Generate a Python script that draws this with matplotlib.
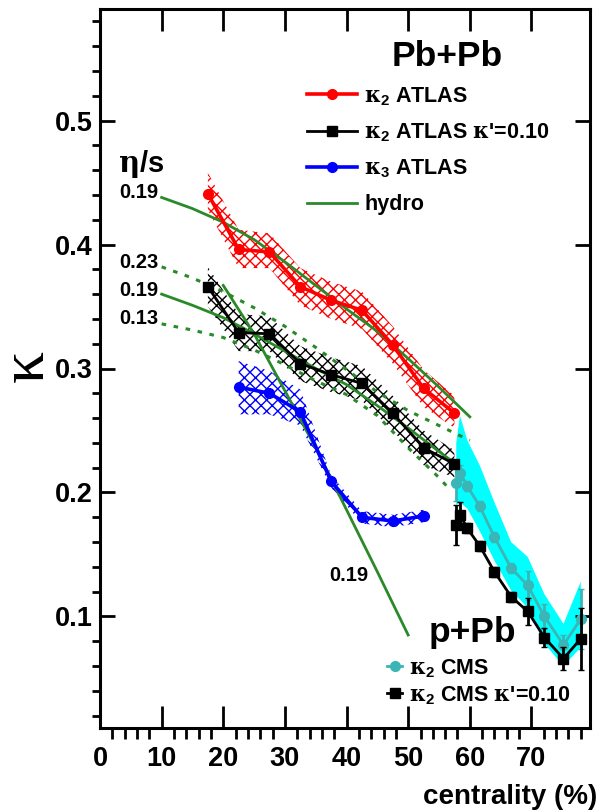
import numpy as np
import matplotlib.pyplot as plt
from matplotlib.lines import Line2D

plt.rcParams['font.family'] = ['Liberation Sans', 'DejaVu Sans']
plt.rcParams['font.weight'] = 'bold'
plt.rcParams['mathtext.fontset'] = 'custom'
plt.rcParams['mathtext.rm'] = 'Liberation Sans:bold'
plt.rcParams['mathtext.it'] = 'DejaVu Serif'
plt.rcParams['mathtext.bf'] = 'Liberation Sans:bold'
plt.rcParams['hatch.linewidth'] = 1.0

# ATLAS Pb+Pb
atlas_x = [17.5, 22.5, 27.5, 32.5, 37.5, 42.5, 47.5, 52.5, 57.5]
k2_atlas = [0.441, 0.396, 0.394, 0.366, 0.355, 0.347, 0.319, 0.284, 0.264]
k2_atlas_hi = [0.458, 0.412, 0.409, 0.381, 0.370, 0.362, 0.334, 0.299, 0.278]
k2_atlas_lo = [0.428, 0.381, 0.381, 0.351, 0.340, 0.332, 0.304, 0.269, 0.252]

k2_atlas_kp = [0.366, 0.329, 0.328, 0.304, 0.295, 0.288, 0.264, 0.236, 0.223]
k2_atlas_kp_hi = [0.382, 0.344, 0.342, 0.318, 0.309, 0.302, 0.278, 0.250, 0.234]
k2_atlas_kp_lo = [0.350, 0.314, 0.314, 0.290, 0.281, 0.274, 0.250, 0.222, 0.212]

k3_x = [22.5, 27.5, 32.5, 37.5, 42.5, 47.5, 52.5]
k3_atlas = [0.285, 0.280, 0.265, 0.209, 0.180, 0.177, 0.181]
k3_atlas_hi = [0.306, 0.298, 0.283, 0.214, 0.185, 0.182, 0.186]
k3_atlas_lo = [0.263, 0.263, 0.254, 0.204, 0.175, 0.172, 0.176]

# hydro curves (eta/s)
hydro_a_x = [10, 15, 20, 25, 30, 35, 40, 45, 50, 55, 60]
hydro_a_y = [0.438, 0.429, 0.418, 0.404, 0.386, 0.367, 0.348, 0.330, 0.308, 0.285, 0.261]
hydro_b_x = [10, 15, 20, 25, 30, 35, 40, 45, 50, 55, 58]
hydro_b_y = [0.360, 0.351, 0.341, 0.328, 0.314, 0.300, 0.287, 0.270, 0.252, 0.233, 0.222]
hydro_hi_x = [10, 15, 20, 25, 30, 35, 40, 45, 50, 55, 60]
hydro_hi_y = [0.382, 0.373, 0.362, 0.349, 0.334, 0.317, 0.299, 0.281, 0.266, 0.254, 0.242]
hydro_lo_x = [10, 15, 20, 25, 30, 35, 40, 45, 50, 55, 57]
hydro_lo_y = [0.336, 0.331, 0.325, 0.315, 0.303, 0.290, 0.279, 0.262, 0.236, 0.212, 0.201]
hydro_k3_x = [20, 25, 30, 35, 40, 45, 50]
hydro_k3_y = [0.367, 0.328, 0.282, 0.236, 0.186, 0.136, 0.085]

# CMS p+Pb
cms_x = [57.8, 58.4, 59.6, 61.6, 64.0, 66.7, 69.4, 72.1, 75.2, 78.0]
k2_cms = [0.208, 0.216, 0.205, 0.189, 0.164, 0.139, 0.125, 0.100, 0.077, 0.098]
k2_cms_err = [0.015, 0.006, 0.004, 0.004, 0.004, 0.004, 0.012, 0.010, 0.008, 0.024]
k2_cms_hi = [0.240, 0.262, 0.242, 0.222, 0.192, 0.160, 0.148, 0.118, 0.094, 0.128]
k2_cms_lo = [0.190, 0.192, 0.187, 0.169, 0.145, 0.121, 0.107, 0.078, 0.060, 0.075]
k2_cms_kp = [0.174, 0.182, 0.171, 0.157, 0.136, 0.116, 0.104, 0.083, 0.066, 0.082]
k2_cms_kp_err = [0.016, 0.010, 0.004, 0.004, 0.004, 0.004, 0.011, 0.008, 0.009, 0.025]

green = '#2a8a2a'
teal = '#3bb5b5'

fig = plt.figure(figsize=(6.03, 8.10), dpi=100)
ax = fig.add_axes([100/603, 82/810, 490/603, 719/810])

# bands
ax.fill_between(atlas_x, k2_atlas_lo, k2_atlas_hi, facecolor='none', edgecolor='red', hatch='xxx', linewidth=0, zorder=1)
ax.fill_between(atlas_x, k2_atlas_kp_lo, k2_atlas_kp_hi, facecolor='none', edgecolor='black', hatch='xxx', linewidth=0, zorder=1)
ax.fill_between(k3_x, k3_atlas_lo, k3_atlas_hi, facecolor='none', edgecolor='blue', hatch='xxx', linewidth=0, zorder=1)
ax.fill_between(cms_x, k2_cms_lo, k2_cms_hi, facecolor='#00ffff', edgecolor='none', zorder=1)

# hydro
ax.plot(hydro_a_x, hydro_a_y, '-', color=green, lw=2, zorder=2)
ax.plot(hydro_b_x, hydro_b_y, '-', color=green, lw=2, zorder=2)
ax.plot(hydro_hi_x, hydro_hi_y, color=green, lw=2.2, ls=(0, (1.5, 2.5)), zorder=2)
ax.plot(hydro_lo_x, hydro_lo_y, color=green, lw=2.2, ls=(0, (1.5, 2.5)), zorder=2)
ax.plot(hydro_k3_x, hydro_k3_y, '-', color=green, lw=2, zorder=2)

# data
l_red, = ax.plot(atlas_x, k2_atlas, '-o', color='red', lw=2.6, ms=7, zorder=4)
l_blk, = ax.plot(atlas_x, k2_atlas_kp, '-s', color='black', lw=2, ms=6.5, zorder=4)
l_blu, = ax.plot(k3_x, k3_atlas, '-o', color='blue', lw=2.6, ms=7, zorder=4)
ax.errorbar(cms_x, k2_cms, yerr=k2_cms_err, fmt='-o', color=teal, lw=2, ms=7, elinewidth=2, capsize=2, zorder=3)
ax.errorbar(cms_x, k2_cms_kp, yerr=k2_cms_kp_err, fmt='-s', color='black', lw=2, ms=6.5, elinewidth=2, capsize=2, zorder=4)

ax.set_xlim(0, 79.5)
ax.set_ylim(0.01, 0.59)
ax.set_xticks(np.arange(0, 80, 10))
ax.set_xticks(np.arange(0, 80, 2), minor=True)
ax.set_yticks([0.1, 0.2, 0.3, 0.4, 0.5])
ax.set_yticks(np.arange(0.02, 0.59, 0.02), minor=True)
ax.set_xticklabels(['0', '10', '20', '30', '40', '50', '60', '70'])
ax.set_yticklabels(['0.1', '0.2', '0.3', '0.4', '0.5'])
ax.tick_params(direction='in', top=True, right=True, width=2, labelsize=19.5)
ax.tick_params(axis='x', which='major', length=16, pad=13)
ax.tick_params(axis='x', which='minor', length=8, width=2)
ax.tick_params(axis='y', which='major', length=11, pad=5)
ax.tick_params(axis='y', which='minor', length=6, width=2)
for s in ax.spines.values():
    s.set_linewidth(2.2)

fig.text(597/603, 1 - 797/810, 'centrality (%)', ha='right', va='center', fontsize=20, fontweight='bold')
fig.text(28/603, 1 - 366/810, '\u03ba', rotation=90, ha='center', va='center', fontsize=46, family='Liberation Serif', fontweight='normal')

# hydro labels
ax.text(2.9, 0.465, r'$\eta$/s', fontsize=21, va='center', ha='left')
ax.text(3.2, 0.442, '0.19', fontsize=14.5, va='center', ha='left')
ax.text(3.2, 0.3855, '0.23', fontsize=14.5, va='center', ha='left')
ax.text(3.2, 0.363, '0.19', fontsize=14.5, va='center', ha='left')
ax.text(3.2, 0.340, '0.13', fontsize=14.5, va='center', ha='left')
ax.text(37.2, 0.133, '0.19', fontsize=14.5, va='center', ha='left')

# legends
ax.text(56.4, 0.5515, 'Pb+Pb', fontsize=25.5, ha='center', va='center')
h_green = Line2D([], [], color=green, lw=2)
leg1 = ax.legend([l_red, l_blk, l_blu, h_green],
                 [r'$\kappa_2$ ATLAS', r"$\kappa_2$ ATLAS $\kappa$'=0.10", r'$\kappa_3$ ATLAS', 'hydro'],
                 loc='upper left', bbox_to_anchor=(307/603, 1 - 85/810), bbox_transform=fig.transFigure,
                 frameon=False, fontsize=15.5, handlelength=2.3, handletextpad=0.35,
                 labelspacing=0.64, borderpad=0, borderaxespad=0)
ax.add_artist(leg1)

ax.text(60.4, 0.087, 'p+Pb', fontsize=25.5, ha='center', va='center')
h_cms = Line2D([], [], color=teal, marker='o', ms=7, lw=2)
h_cms_kp = Line2D([], [], color='black', marker='s', ms=6.5, lw=2)
leg2 = ax.legend([h_cms, h_cms_kp], [r'$\kappa_2$ CMS', r"$\kappa_2$ CMS $\kappa$'=0.10"],
                 loc='upper left', bbox_to_anchor=(387/603, 1 - 657/810), bbox_transform=fig.transFigure,
                 frameon=False, fontsize=15.5, handlelength=0.7, handletextpad=0.3,
                 labelspacing=0.2, borderpad=0, borderaxespad=0)

fig.savefig('out.png', dpi=100)
